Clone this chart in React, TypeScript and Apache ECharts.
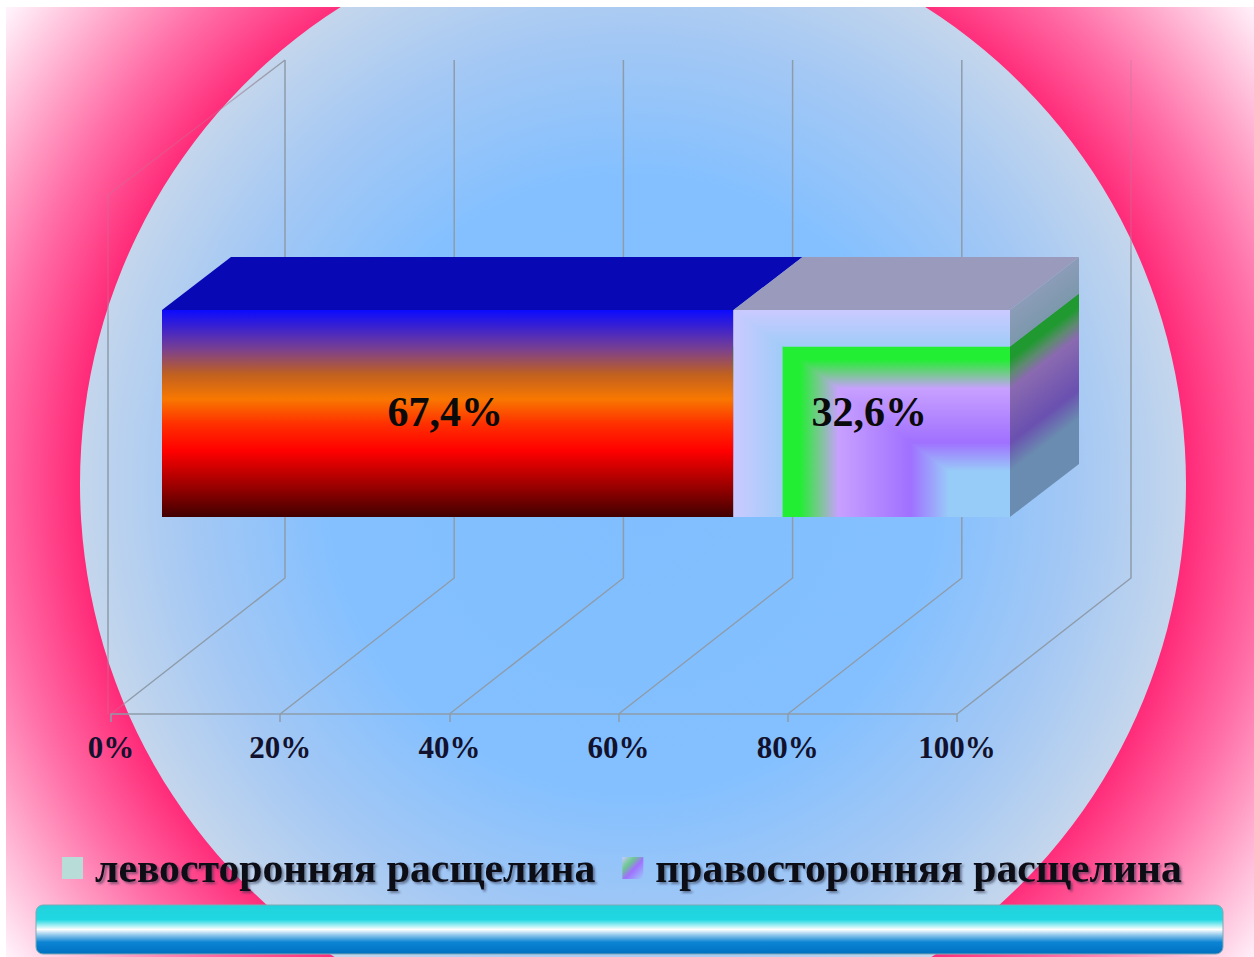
import React, { useEffect, useRef } from "react";
import * as echarts from "echarts";

const categories = ["Расщелина"];
const seriesNames = ["левосторонняя расщелина", "правосторонняя расщелина"];
const leftValues = [67.4];
const rightValues = [32.6];
const tickValues = [0, 20, 40, 60, 80, 100];

const WIDTH = 1254;
const HEIGHT = 957;
const SERIF = '"Liberation Serif", "Times New Roman", serif';

// Oblique projection: how far the floor and the bar recede into the page.
const FLOOR_DX = 174;
const FLOOR_DY = -136;
const BAR_DX = 69;
const BAR_DY = -53;
const WALL_TOP = 60;

// Backdrop disc centre and radius, shared by the wall line fade.
const DISC_X = 633;
const DISC_Y = 484;
const DISC_R = 553;

const leftStops = [
  { offset: 0, color: "#0a0aff" },
  { offset: 0.19, color: "#7a4090" },
  { offset: 0.31, color: "#c06020" },
  { offset: 0.43, color: "#f87800" },
  { offset: 0.55, color: "#ff3000" },
  { offset: 0.68, color: "#ff0000" },
  { offset: 0.87, color: "#900000" },
  { offset: 1, color: "#400000" },
];

const rightStops = [
  { offset: 0, color: "#cbcaff" },
  { offset: 0.175, color: "#a0ccf8" },
  { offset: 0.18, color: "#22ee33" },
  { offset: 0.24, color: "#22ee33" },
  { offset: 0.31, color: "#78c890" },
  { offset: 0.38, color: "#c8a0ff" },
  { offset: 0.64, color: "#a070ff" },
  { offset: 0.78, color: "#98ccf8" },
  { offset: 1, color: "#98ccf8" },
];

const sideStops = [
  { offset: 0, color: "#8c9cb8" },
  { offset: 0.175, color: "#7c98ac" },
  { offset: 0.18, color: "#209a30" },
  { offset: 0.24, color: "#209a30" },
  { offset: 0.31, color: "#5e8a70" },
  { offset: 0.38, color: "#8a6ab0" },
  { offset: 0.64, color: "#6a50b0" },
  { offset: 0.78, color: "#6a8cb0" },
  { offset: 1, color: "#6a8cb0" },
];

const percentLabel = (v: number) => `${v.toFixed(1).replace(".", ",")}%`;

// Stacked segments of the bar as [start, end, category, value].
const segments = [
  [0, leftValues[0], 0, leftValues[0]],
  [leftValues[0], leftValues[0] + rightValues[0], 0, rightValues[0]],
];

function bounds(api: any) {
  const c = api.coord([api.value(0), api.value(2)]);
  const e = api.coord([api.value(1), api.value(2)]);
  const h = api.size([0, 1])[1];
  return { x0: c[0], x1: e[0], top: c[1] - h / 2, bottom: c[1] + h / 2 };
}

// Floor lines and back-wall verticals for each tick on the value axis.
// The stroke fades out where a line leaves the disc.
function renderWall(params: any, api: any) {
  const p = api.coord([api.value(0), 0]);
  const style = {
    lineWidth: 1.5,
    fill: "none",
    stroke: new echarts.graphic.RadialGradient(
      DISC_X,
      DISC_Y,
      DISC_R + 6,
      [
        { offset: 0, color: "#8e9caa" },
        { offset: 0.98, color: "#8e9caa" },
        { offset: 1, color: "rgba(190,120,150,0.35)" },
      ],
      true
    ),
  };
  const children: any[] = [
    {
      type: "polyline",
      shape: {
        points: [
          [p[0], p[1]],
          [p[0] + FLOOR_DX, p[1] + FLOOR_DY],
          [p[0] + FLOOR_DX, WALL_TOP],
        ],
      },
      style,
    },
  ];
  if (params.dataIndex === 0) {
    children.push({
      type: "polyline",
      shape: {
        points: [
          [p[0] - 3, p[1]],
          [p[0] - 3, WALL_TOP - FLOOR_DY - 1],
          [p[0] + FLOOR_DX, WALL_TOP],
        ],
      },
      style,
    });
  }
  return { type: "group", children };
}

// Top faces, the right-hand end and the diagonal half of the framed fill.
function renderFaces(params: any, api: any) {
  const { x0, x1, top, bottom } = bounds(api);
  const isRight = params.dataIndex === 1;
  const children: any[] = [
    {
      type: "polygon",
      shape: {
        points: [
          [x0, top],
          [x0 + BAR_DX, top + BAR_DY],
          [x1 + BAR_DX, top + BAR_DY],
          [x1, top],
        ],
      },
      style: { fill: isRight ? "#9a9abc" : "#0808b4" },
    },
  ];
  if (isRight) {
    children.push({
      type: "polygon",
      shape: {
        points: [
          [x0, top],
          [x1, bottom],
          [x0, bottom],
        ],
      },
      style: {
        fill: new echarts.graphic.LinearGradient(x0, 0, x1, 0, rightStops, true),
      },
    });
    // The end face carries the same bands, sheared along the receding edge.
    const h = bottom - top;
    const len = Math.hypot(BAR_DX, BAR_DY);
    const nx = -BAR_DY / len;
    const ny = BAR_DX / len;
    const span = (h * BAR_DX) / len;
    children.push({
      type: "polygon",
      shape: {
        points: [
          [x1, top],
          [x1 + BAR_DX, top + BAR_DY],
          [x1 + BAR_DX, bottom + BAR_DY],
          [x1, bottom],
        ],
      },
      style: {
        fill: new echarts.graphic.LinearGradient(
          x1,
          top,
          x1 + nx * span,
          top + ny * span,
          sideStops,
          true
        ),
      },
    });
  }
  return { type: "group", children };
}

function renderValueLabel(_params: any, api: any) {
  const { x0, x1, top, bottom } = bounds(api);
  return {
    type: "text",
    x: (x0 + x1) / 2 - 2.5,
    y: (top + bottom) / 2 - 2,
    style: {
      text: percentLabel(api.value(3)),
      font: `bold 42px ${SERIF}`,
      fill: "#0a0a0a",
      textAlign: "center",
      textVerticalAlign: "middle",
    },
  };
}

function buildOption() {
  return {
    animation: false,
    backgroundColor: "#ffffff",
    graphic: {
      elements: [
        {
          type: "rect",
          z: -10,
          shape: { x: 6, y: 7, width: WIDTH - 6, height: HEIGHT - 7 },
          style: {
            fill: new echarts.graphic.RadialGradient(
              DISC_X,
              DISC_Y,
              800,
              [
                { offset: 0.68, color: "#ff2273" },
                { offset: 0.8, color: "#ff70a8" },
                { offset: 0.98, color: "#fff2fa" },
                { offset: 1, color: "#fff2fa" },
              ],
              true
            ),
          },
        },
        {
          type: "circle",
          z: -9,
          x: DISC_X,
          y: DISC_Y,
          scaleY: 562 / DISC_R,
          shape: { cx: 0, cy: 0, r: DISC_R },
          style: {
            fill: new echarts.graphic.RadialGradient(
              0,
              0,
              DISC_R,
              [
                { offset: 0, color: "#80beff" },
                { offset: 0.55, color: "#84c0ff" },
                { offset: 0.8, color: "#a4c8f4" },
                { offset: 1, color: "#c4d6ec" },
              ],
              true
            ),
          },
        },
        // White page margin along the top, above the disc.
        {
          type: "rect",
          z: -8,
          shape: { x: 0, y: 0, width: WIDTH, height: 7 },
          style: { fill: "#ffffff" },
        },
        {
          type: "rect",
          z: -8,
          shape: { x: 36, y: 905, width: 1187, height: 49, r: 7 },
          style: {
            stroke: "#7fa9b4",
            lineWidth: 1,
            fill: new echarts.graphic.LinearGradient(0, 0, 0, 1, [
              { offset: 0, color: "#22d2dc" },
              { offset: 0.3, color: "#20d8e2" },
              { offset: 0.5, color: "#ffffff" },
              { offset: 0.62, color: "#88c4ea" },
              { offset: 0.76, color: "#0c84d4" },
              { offset: 1, color: "#0070c0" },
            ]),
          },
        },
      ],
    },
    legend: {
      left: 57,
      top: 842,
      itemWidth: 21,
      itemHeight: 22,
      itemGap: 27,
      data: [
        { name: seriesNames[0], icon: "rect", itemStyle: { color: "#b8dcd8" } },
        {
          name: seriesNames[1],
          icon: "rect",
          itemStyle: {
            color: new echarts.graphic.LinearGradient(0, 0, 1, 1, [
              { offset: 0, color: "#cbcaff" },
              { offset: 0.3, color: "#6cc890" },
              { offset: 0.55, color: "#a070ff" },
              { offset: 1, color: "#98ccf8" },
            ]),
          },
        },
      ],
      textStyle: {
        fontFamily: SERIF,
        fontWeight: "bold",
        fontSize: 41.7,
        color: "#0a0a14",
        padding: [0, 0, 0, 7],
        textShadowColor: "rgba(40,50,70,0.55)",
        textShadowBlur: 2,
        textShadowOffsetX: 2,
        textShadowOffsetY: 2,
      },
    },
    grid: [
      { left: 111, width: 846, top: WALL_TOP, height: 654 },
      { left: 162, width: 848, top: 310, height: 207 },
    ],
    xAxis: [
      {
        type: "value",
        gridIndex: 0,
        min: 0,
        max: 100,
        interval: 20,
        splitLine: { show: false },
        axisLine: { show: true, lineStyle: { color: "#8e9caa", width: 1.5 } },
        axisTick: { show: true, length: 8, lineStyle: { color: "#8e9caa", width: 1.5 } },
        axisLabel: {
          margin: 18,
          formatter: "{value}%",
          fontFamily: SERIF,
          fontWeight: "bold",
          fontSize: 31,
          color: "#12122e",
        },
      },
      { type: "value", gridIndex: 1, min: 0, max: 100, show: false },
    ],
    yAxis: [
      { type: "value", gridIndex: 0, min: 0, max: 1, show: false },
      { type: "category", gridIndex: 1, data: categories, show: false },
    ],
    series: [
      {
        type: "custom",
        name: "wall",
        xAxisIndex: 0,
        yAxisIndex: 0,
        z: 1,
        silent: true,
        clip: false,
        encode: { x: 0, y: 1 },
        data: tickValues.map((v) => [v, 0]),
        renderItem: renderWall,
      },
      {
        type: "bar",
        name: seriesNames[0],
        xAxisIndex: 1,
        yAxisIndex: 1,
        stack: "share",
        barWidth: "100%",
        z: 2,
        data: leftValues,
        itemStyle: {
          color: new echarts.graphic.LinearGradient(0, 0, 0, 1, leftStops),
        },
      },
      {
        type: "bar",
        name: seriesNames[1],
        xAxisIndex: 1,
        yAxisIndex: 1,
        stack: "share",
        barWidth: "100%",
        z: 2,
        data: rightValues,
        itemStyle: {
          color: new echarts.graphic.LinearGradient(0, 0, 0, 1, rightStops),
        },
      },
      {
        type: "custom",
        name: "faces",
        xAxisIndex: 1,
        yAxisIndex: 1,
        z: 3,
        silent: true,
        clip: false,
        encode: { x: [0, 1], y: 2 },
        data: segments,
        renderItem: renderFaces,
      },
      {
        type: "custom",
        name: "values",
        xAxisIndex: 1,
        yAxisIndex: 1,
        z: 4,
        silent: true,
        clip: false,
        encode: { x: [0, 1], y: 2 },
        data: segments,
        renderItem: renderValueLabel,
      },
    ],
  };
}

export default function App() {
  const ref = useRef<HTMLDivElement>(null);

  useEffect(() => {
    if (!ref.current) return;
    const chart = echarts.init(ref.current, undefined, { renderer: "svg" });
    chart.setOption(buildOption() as any);
    return () => chart.dispose();
  }, []);

  return (
    <div
      ref={ref}
      style={{ position: "fixed", left: 0, top: 0, width: WIDTH, height: HEIGHT }}
    />
  );
}
